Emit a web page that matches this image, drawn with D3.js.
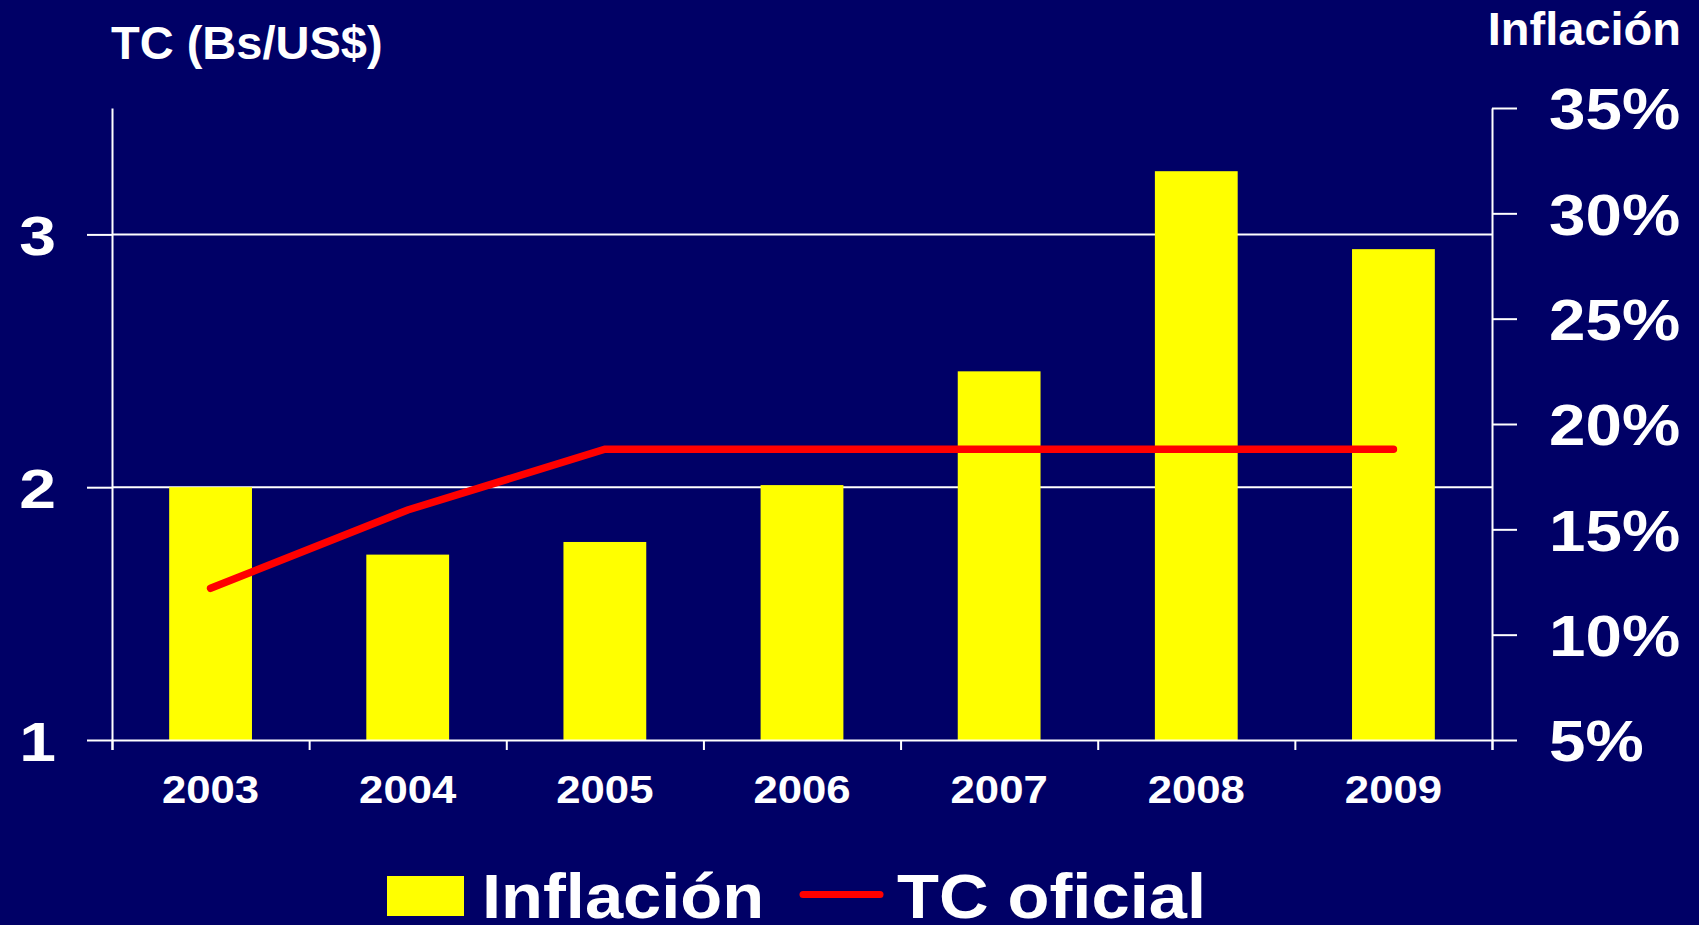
<!DOCTYPE html>
<html>
<head>
<meta charset="utf-8">
<script src="https://cdn.jsdelivr.net/npm/d3@7"></script>
<style>
    html, body { margin: 0; padding: 0; background: #000066; }
    svg { display: block; }
    text { font-family: "Liberation Sans", Arial, sans-serif; font-weight: bold; fill: #fff; }
</style>
</head>
<body>
<div id="chart-wrap"></div>
<script>
'use strict';

const years = ['2003', '2004', '2005', '2006', '2007', '2008', '2009']
const inflacion = [17.0, 13.8, 14.4, 17.1, 22.5, 32.0, 28.3]
const tcOficial = [1.60, 1.91, 2.15, 2.15, 2.15, 2.15, 2.15]
const leftTicks = [1, 2, 3]
const rightTicks = [5, 10, 15, 20, 25, 30, 35]

const createChart = (() => {

    let width = 1699,
        height = 925,
        plot = { left: 112, right: 1492, top: 108, bottom: 740 };

    let svg = d3.select("#chart-wrap")
        .append("svg")
        .attr("width", width)
        .attr("height", height)

    svg.append("rect")
        .attr("width", width)
        .attr("height", height)
        .attr("fill", "#000066")

    let xScale = d3.scaleBand()
        .domain(years)
        .range([plot.left, plot.right])
        .paddingInner(0.58)
        .paddingOuter(0.29)

    // boundaries between years, for the bottom tick marks
    let xEdges = d3.scaleLinear()
        .domain([0, years.length])
        .range([plot.left, plot.right])

    let yLeft = d3.scaleLinear()
        .domain([1, 3.5])
        .range([plot.bottom, plot.top])

    let yRight = d3.scaleLinear()
        .domain([5, 35])
        .range([plot.bottom, plot.top])

    // gridlines at the left axis ticks
    svg.append("g")
        .selectAll("line")
        .data(leftTicks.slice(1))
        .join("line")
        .attr("x1", plot.left)
        .attr("x2", plot.right)
        .attr("y1", d => yLeft(d))
        .attr("y2", d => yLeft(d))
        .attr("stroke", "#fff")
        .attr("stroke-width", 2)

    // bars
    svg.append("g")
        .selectAll("rect")
        .data(inflacion)
        .join("rect")
        .attr("x", (d, i) => xScale(years[i]))
        .attr("width", xScale.bandwidth())
        .attr("y", d => yRight(d))
        .attr("height", d => yRight(5) - yRight(d))
        .attr("fill", "#ffff00")

    // bottom axis: ticks between years
    let edgeAxis = svg.append("g")
        .attr("transform", `translate(0, ${plot.bottom})`)
        .call(d3.axisBottom(xEdges).ticks(years.length).tickSize(10).tickFormat(""))
    edgeAxis.select(".domain").attr("stroke", "#fff").attr("stroke-width", 2)
    edgeAxis.selectAll(".tick line").attr("stroke", "#fff").attr("stroke-width", 2)

    // year labels
    let yearAxis = svg.append("g")
        .attr("transform", `translate(0, ${plot.bottom})`)
        .call(d3.axisBottom(xScale).tickSize(0))
    yearAxis.select(".domain").remove()
    yearAxis.selectAll(".tick text")
        .attr("y", 0)
        .attr("dy", 0)
        .attr("transform", "translate(0, 63) scale(1.15, 1)")
        .style("font-size", "38px")
        .style("font-family", "'Liberation Sans', Arial, sans-serif")
        .style("font-weight", "bold")
        .attr("fill", "#fff")

    // left axis
    let leftAxis = svg.append("g")
        .attr("transform", `translate(${plot.left}, 0)`)
        .call(d3.axisLeft(yLeft).tickValues(leftTicks).tickSize(25).tickSizeOuter(0).tickFormat(d3.format("d")))
    leftAxis.select(".domain").attr("stroke", "#fff").attr("stroke-width", 2)
    leftAxis.selectAll(".tick line").attr("stroke", "#fff").attr("stroke-width", 2)
    leftAxis.selectAll(".tick text")
        .attr("x", 0)
        .attr("dy", "0.36em")
        .attr("transform", `translate(${56 - plot.left}, 0) scale(1.18, 1)`)
        .style("font-size", "56px")
        .style("font-family", "'Liberation Sans', Arial, sans-serif")
        .style("font-weight", "bold")
        .attr("fill", "#fff")

    // right axis
    let rightAxis = svg.append("g")
        .attr("transform", `translate(${plot.right}, 0)`)
        .call(d3.axisRight(yRight).tickValues(rightTicks).tickSize(25).tickSizeOuter(0).tickFormat(d => d + "%"))
    rightAxis.select(".domain").attr("stroke", "#fff").attr("stroke-width", 2)
    rightAxis.selectAll(".tick line").attr("stroke", "#fff").attr("stroke-width", 2)
    rightAxis.selectAll(".tick text")
        .attr("x", 0)
        .attr("dy", "0.36em")
        .attr("transform", "translate(57, 0) scale(1.13, 1)")
        .style("font-size", "58px")
        .style("font-family", "'Liberation Sans', Arial, sans-serif")
        .style("font-weight", "bold")
        .attr("fill", "#fff")

    // TC oficial line
    svg.append("path")
        .datum(tcOficial)
        .attr("fill", "none")
        .attr("stroke", "#ff0000")
        .attr("stroke-width", 7.5)
        .attr("stroke-linecap", "round")
        .attr("d", d3.line()
            .x((d, i) => xScale(years[i]) + xScale.bandwidth() / 2)
            .y(d => yLeft(d))
        )

    // axis titles
    svg.append("text")
        .attr("x", 111)
        .attr("y", 59)
        .style("font-size", "47px")
        .text("TC (Bs/US$)")

    svg.append("text")
        .attr("x", 1681)
        .attr("y", 45)
        .attr("text-anchor", "end")
        .style("font-size", "47px")
        .text("Inflación")

    // legend
    let legend = svg.append("g")

    legend.append("rect")
        .attr("x", 387)
        .attr("y", 876)
        .attr("width", 77)
        .attr("height", 40)
        .attr("fill", "#ffff00")

    legend.append("text")
        .attr("transform", "translate(482, 918) scale(1.09, 1)")
        .style("font-size", "63px")
        .text("Inflación")

    legend.append("line")
        .attr("x1", 803)
        .attr("x2", 880)
        .attr("y1", 894.5)
        .attr("y2", 894.5)
        .attr("stroke", "#ff0000")
        .attr("stroke-width", 7)
        .attr("stroke-linecap", "round")

    legend.append("text")
        .attr("transform", "translate(897, 918) scale(1.09, 1)")
        .style("font-size", "63px")
        .text("TC oficial")
})

window.onload = createChart()
</script>
</body>
</html>
